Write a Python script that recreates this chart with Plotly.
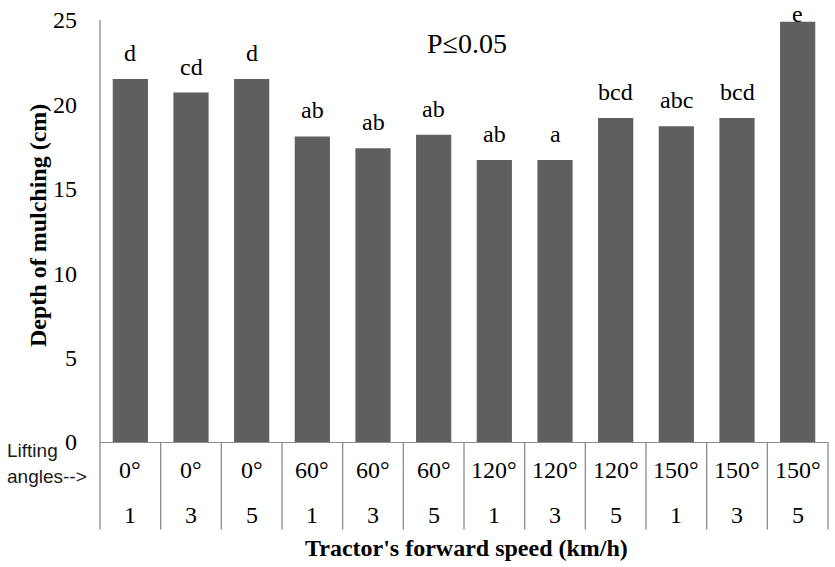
import plotly.graph_objects as go

angles = ["0°", "0°", "0°", "60°", "60°", "60°", "120°", "120°", "120°", "150°", "150°", "150°"]
speeds = ["1", "3", "5", "1", "3", "5", "1", "3", "5", "1", "3", "5"]
depth = [21.5, 20.7, 21.5, 18.1, 17.4, 18.2, 16.7, 16.7, 19.2, 18.7, 19.2, 24.9]
letters = ["d", "cd", "d", "ab", "ab", "ab", "ab", "a", "bcd", "abc", "bcd", "e"]
y_ticks = [0, 5, 10, 15, 20, 25]

cats = [f"{a} / {s}" for a, s in zip(angles, speeds)]

W, H = 835, 567
L, R, T, B = 100, 7, 18, 125
YMAX = 25
plot_h = H - T - B
plot_w = W - L - R
def py(pix):  # pixel y -> paper y
    return (H - B - pix) / plot_h
def px(pix):  # pixel x -> paper x
    return (pix - L) / plot_w

serif = "Liberation Serif, Times New Roman, serif"
sans = "Liberation Sans, Arial, sans-serif"
grey_line = "#8c8c8c"
FS = 24

fig = go.Figure(go.Bar(
    x=cats, y=depth, marker=dict(color="#5f5f5f", line=dict(width=0)),
    width=0.58, hoverinfo="y"))

ann = []
for c, v, t in zip(cats, depth, letters):
    top_px = T + (YMAX - v) * plot_h / YMAX
    shift = min(11, top_px - 27)
    ann.append(dict(x=c, y=v, xref="x", yref="y", text=t, showarrow=False,
                    yanchor="bottom", yshift=shift, font=dict(family=serif, size=FS, color="black")))
for c, a, s in zip(cats, angles, speeds):
    ann.append(dict(x=c, y=py(470), xref="x", yref="paper", text=a, showarrow=False,
                    yanchor="middle", font=dict(family=serif, size=FS, color="black")))
    ann.append(dict(x=c, y=py(515), xref="x", yref="paper", text=s, showarrow=False,
                    yanchor="middle", font=dict(family=serif, size=FS, color="black")))

ann.append(dict(x=px(5), y=py(451), xref="paper", yref="paper", text="Lifting",
                showarrow=False, xanchor="left", yanchor="middle",
                font=dict(family=sans, size=19, color="#1a1a1a")))
ann.append(dict(x=px(5), y=py(477), xref="paper", yref="paper", text="angles-->",
                showarrow=False, xanchor="left", yanchor="middle",
                font=dict(family=sans, size=19, color="#1a1a1a")))
ann.append(dict(x=px(466), y=py(549), xref="paper", yref="paper", text="<b>Tractor's forward speed (km/h)</b>",
                showarrow=False, xanchor="center", yanchor="middle",
                font=dict(family=serif, size=FS, color="black")))
ann.append(dict(x=px(38), y=py(225), xref="paper", yref="paper",
                text="<b>Depth of mulching (cm)</b>", textangle=-90,
                showarrow=False, xanchor="center", yanchor="middle",
                font=dict(family=serif, size=FS, color="black")))
ann.append(dict(x=px(467), y=py(42), xref="paper", yref="paper", text="P≤0.05",
                showarrow=False, xanchor="center", yanchor="middle",
                font=dict(family=serif, size=28, color="black")))

shapes = []
n = len(cats)
for k in range(n + 1):
    y1 = py(T) if k == 0 else 0
    shapes.append(dict(type="line", xref="paper", yref="paper", x0=k / n, x1=k / n,
                       y0=py(530), y1=y1, line=dict(color=grey_line, width=1.3)))

fig.update_layout(
    width=W, height=H, margin=dict(l=L, r=R, t=T, b=B),
    paper_bgcolor="white", plot_bgcolor="white", showlegend=False,
    annotations=ann, shapes=shapes,
    xaxis=dict(showticklabels=False, ticks="", showgrid=False, showline=True,
               linecolor=grey_line, linewidth=1.3, zeroline=False, fixedrange=True),
    yaxis=dict(range=[0, YMAX], tickvals=y_ticks, ticks="", showgrid=False, showline=False,
               zeroline=False, ticklabelstandoff=22,
               tickfont=dict(family=serif, size=FS, color="black")),
)
fig.write_html("out.html")
